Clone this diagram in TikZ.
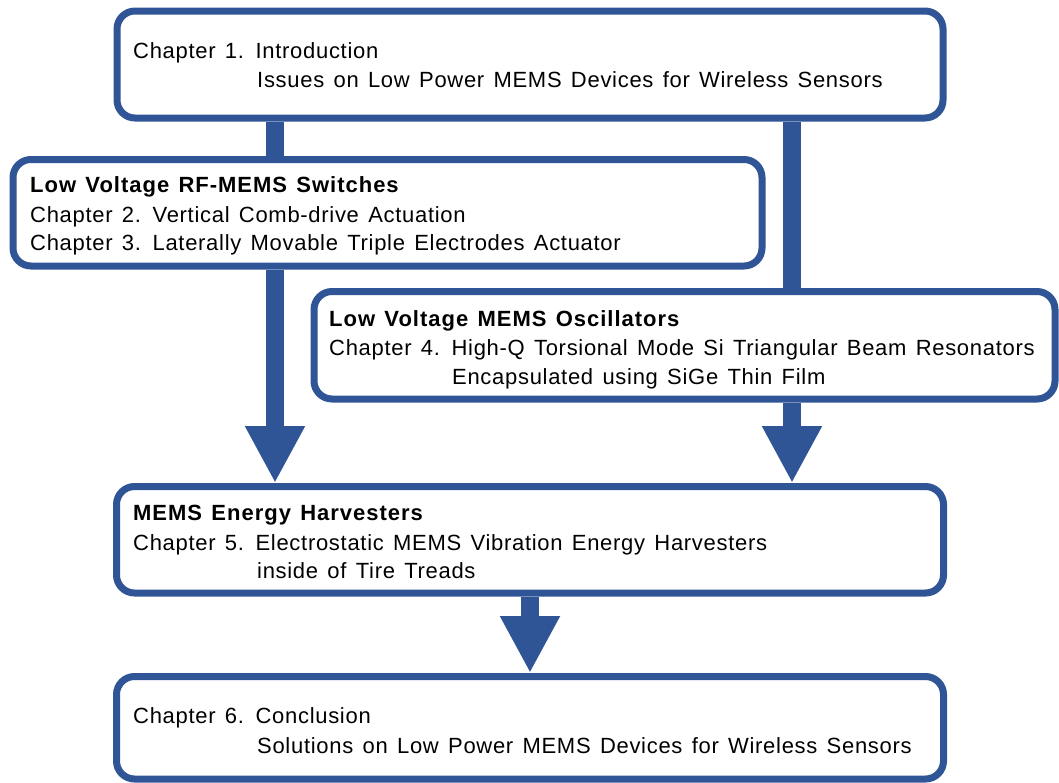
\documentclass[tikz,border=0pt]{standalone}
\usepackage{fontspec}
\setmainfont{Liberation Sans}[LetterSpace=3.2,BoldFeatures={LetterSpace=4.5}]
\usetikzlibrary{arrows.meta}
\definecolor{mblue}{RGB}{47,85,151}
\newcommand\mytxtfont{\fontsize{22}{29}\selectfont\spaceskip 9.3pt\relax}
\newcommand\mybtxtfont{\fontsize{22}{29}\selectfont\bfseries\spaceskip 9.3pt\relax}
\begin{document}
\begin{tikzpicture}[x=1pt,y=-1pt,
  box/.style={draw=mblue, line width=7pt, rounded corners=18pt, fill=white, rectangle, inner sep=0pt},
  txt/.style={anchor=base west, inner sep=0pt, font=\mytxtfont},
  btxt/.style={txt, font=\mybtxtfont},
  shaft/.style={draw=mblue, line width=18pt},
  arr/.style={shaft, -{Triangle[width=56pt,length=57pt]}}]
\useasboundingbox (0,0) rectangle (1059,782);
% boxes
\node[box, minimum width=826pt, minimum height=107pt] (b1) at (530,64.5) {};
\node[box, minimum width=749pt, minimum height=106.5pt] (b2) at (387.5,212.75) {};
\node[box, minimum width=741pt, minimum height=107.5pt] (b3) at (684.5,345.25) {};
\node[box, minimum width=827pt, minimum height=106.5pt] (b4) at (530,539.75) {};
\node[box, minimum width=827pt, minimum height=102.5pt] (b5) at (530,727.75) {};
% connector x positions
\coordinate (cL) at (275,0);
\coordinate (cR) at (792,0);
\coordinate (cM) at (530,0);
\draw[shaft] (b1.south -| cL) -- (b2.north -| cL);
\draw[shaft] (b1.south -| cR) -- (b3.north -| cR);
\draw[arr] (b2.south -| cL) -- (b4.north -| cL);
\draw[arr] (b3.south -| cR) -- (b4.north -| cR);
\draw[arr] (b4.south -| cM) -- (b5.north -| cM);
% texts
\node[txt] (t1a) at (133,58) {Chapter 1. Introduction};
\node[txt] (t1b) at (257,87) {Issues on Low Power MEMS Devices for Wireless Sensors};
\node[btxt] (t2a) at (30,192) {Low Voltage RF-MEMS Switches};
\node[txt] (t2b) at (30,222) {Chapter 2. Vertical Comb-drive Actuation};
\node[txt] (t2c) at (30,250) {Chapter 3. Laterally Movable Triple Electrodes Actuator};
\node[btxt] (t3a) at (329,326) {Low Voltage MEMS Oscillators};
\node[txt] (t3b) at (329,355) {Chapter 4. High-Q Torsional Mode Si Triangular Beam Resonators};
\node[txt] (t3c) at (452,384) {Encapsulated using SiGe Thin Film};
\node[btxt] (t4a) at (133,520) {MEMS Energy Harvesters};
\node[txt] (t4b) at (133,550) {Chapter 5. Electrostatic MEMS Vibration Energy Harvesters};
\node[txt] (t4c) at (257,578) {inside of Tire Treads};
\node[txt] (t5a) at (133,723) {Chapter 6. Conclusion};
\node[txt] (t5b) at (257,753) {Solutions on Low Power MEMS Devices for Wireless Sensors};
\end{tikzpicture}
\end{document}
